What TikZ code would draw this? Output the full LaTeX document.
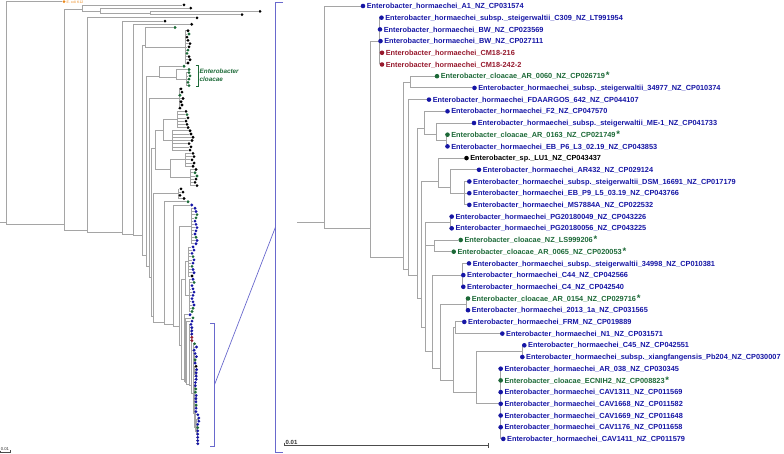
\documentclass[tikz,border=0pt]{standalone}
\usepackage{fontspec}
\setmainfont{Liberation Sans}
\pgfdeclarelayer{edgelayer}
\pgfsetlayers{edgelayer,main}
\definecolor{hb}{RGB}{22,22,165}
\definecolor{hg}{RGB}{28,105,55}
\definecolor{hr}{RGB}{150,25,45}
\definecolor{hk}{RGB}{0,0,0}
\definecolor{ho}{RGB}{235,135,25}
\definecolor{brc}{RGB}{165,165,165}
\definecolor{zbc}{RGB}{105,105,205}
\tikzset{
 lab/.style={anchor=base west,inner sep=0pt,xshift=3.6pt,yshift=-2.65pt,font=\fontsize{7.35}{8}\selectfont\bfseries},
 zline/.style={draw=zbc,line width=0.7pt},
 sbar/.style={draw=black!70,line width=0.6pt},
 cltext/.style={anchor=base west,inner sep=0pt,text=hg,font=\fontsize{6.3}{8}\selectfont\bfseries\itshape},
}
\newcommand\lf[4]{\node[leafdot,fill=#4] (#1) at (#2,#3) {};}
\newcommand\kid[2]{\foreach \kk in {#2}{\draw[brl] (#1) |- (\kk);}}
\newcommand\kidr[4]{\foreach \ki in {#2,...,#3}{\draw[brl] (#1) |- (#4\ki);}}
\newcommand\gstar{\hspace{0.8pt}{\fontsize{9.5}{9}\selectfont*}}
\newcommand\tl[3]{\node[lab,text=#2] (t#1) at (R-a#1.center) {#3};}
\newcommand\zoomtree{%
\lf{a0}{363}{0}{hb}\lf{a1}{381.5}{1}{hb}\lf{a2}{380}{2}{hb}\lf{a3}{380.5}{3}{hb}\lf{a4}{382}{4}{hr}\lf{a5}{382}{5}{hr}%
\lf{a6}{437}{6}{hg}\lf{a7}{474.5}{7}{hb}\lf{a8}{429}{8}{hb}\lf{a9}{447.5}{9}{hb}\lf{a10}{474}{10}{hb}%
\lf{a11}{447.5}{11}{hg}\lf{a12}{447.5}{12}{hb}\lf{a13}{466.5}{13}{hk}\lf{a14}{479}{14}{hb}%
\lf{a15}{469.3}{15}{hb}\lf{a16}{469.3}{16}{hb}\lf{a17}{469.3}{17}{hb}\lf{a18}{451.7}{18}{hb}\lf{a19}{451.7}{19}{hb}%
\lf{a20}{460.7}{20}{hg}\lf{a21}{453.7}{21}{hg}\lf{a22}{469}{22}{hb}\lf{a23}{463.3}{23}{hb}\lf{a24}{463.3}{24}{hb}%
\lf{a25}{468}{25}{hg}\lf{a26}{468}{26}{hb}\lf{a27}{464.3}{27}{hb}\lf{a28}{502.3}{28}{hb}\lf{a29}{524.3}{29}{hb}%
\lf{a30}{522.3}{30}{hb}\lf{a31}{500.7}{31}{hb}\lf{a32}{500.7}{32}{hg}\lf{a33}{500.7}{33}{hb}\lf{a34}{500.7}{34}{hb}%
\lf{a35}{500.7}{35}{hb}\lf{a36}{500.7}{36}{hb}\lf{a37}{503.3}{37}{hb}%
\coordinate (n1) at (324,18.5);\coordinate (n2) at (370,19);\coordinate (n3) at (379.5,3);%
\coordinate (n4) at (403,21.5);\coordinate (n5) at (410,6.5);\coordinate (n6) at (408,22.5);%
\coordinate (n7) at (417,23);\coordinate (n8) at (424,10.5);\coordinate (n8b) at (436,11);%
\coordinate (n8c) at (446,11.5);\coordinate (n9) at (421,25);\coordinate (nLU) at (438,15);%
\coordinate (nAR) at (450,15.5);\coordinate (nDSM) at (464,16);\coordinate (n10) at (425,27.5);%
\coordinate (nPG) at (450.5,18.5);\coordinate (nLS) at (434,20.5);\coordinate (n11) at (432,29.5);%
\coordinate (n34) at (462.5,23);\coordinate (n12) at (440,31);\coordinate (nA154) at (466.5,25.5);%
\coordinate (n13) at (453,32);\coordinate (nFRM) at (455,27.5);\coordinate (nBig) at (476,33);%
\coordinate (nC45) at (522.5,29.5);\coordinate (nCAV) at (500,34);%
\begin{pgfonlayer}{edgelayer}%
\kid{n1}{a0,n2}\kid{n2}{n3,n4}\kidr{n3}{1}{5}{a}\kid{n4}{n5,n6}\kid{n5}{a6,a7}%
\kid{n6}{a8,n7}\kid{n7}{n8,n9}\kid{n8}{a9,n8b}\kid{n8b}{a10,n8c}\kid{n8c}{a11,a12}%
\kid{n9}{nLU,n10}\kid{nLU}{a13,nAR}\kid{nAR}{a14,nDSM}\kidr{nDSM}{15}{17}{a}%
\kid{n10}{nPG,nLS,n11}\kid{nPG}{a18,a19}\kid{nLS}{a20,a21}\kid{n11}{n34,n12}%
\kidr{n34}{22}{24}{a}\kid{n12}{nA154,n13}\kid{nA154}{a25,a26}\kid{n13}{nFRM,nBig}%
\kid{nFRM}{a27,a28}\kid{nBig}{nC45,nCAV}\kid{nC45}{a29,a30}\kidr{nCAV}{31}{37}{a}%
\end{pgfonlayer}}
\begin{document}
\begin{tikzpicture}[x=1pt,y=-1pt]
\useasboundingbox (0,0) rectangle (784,454);
% ---------- right: zoomed clade ----------
\begin{scope}[shift={(0,6)},x=1pt,y=-11.7pt,name prefix=R-,
  leafdot/.style={circle,inner sep=0pt,minimum size=4.6pt,draw=none},
  brl/.style={draw=brc,line width=0.9pt}]
 \coordinate (rt) at (297,18.5);
 \zoomtree
 \begin{pgfonlayer}{edgelayer}\draw[brl] (rt) -- (n1);\end{pgfonlayer}
\end{scope}
% ---------- left: same clade, compressed ----------
\begin{scope}[shift={(173.21,324.4)},x=0.049pt,y=-3.227pt,name prefix=L-,
  leafdot/.style={circle,inner sep=0pt,minimum size=3.1pt,draw=none},
  brl/.style={draw=brc,line width=0.7pt}]
 \zoomtree
\end{scope}
% ---------- left: whole tree ----------
\begin{scope}[shift={(0,1.7)},y=-3.227pt,
  leafdot/.style={circle,inner sep=0pt,minimum size=3.1pt,draw=none},
  brl/.style={draw=brc,line width=0.7pt}]
 \lf{K0}{64}{0}{ho}
 \foreach \ki/\xx/\clr in {1/184/hk,2/190.7/hk,3/260/hk,4/242/hk,5/197/hk,6/165/hk,7/191.7/hk,8/175/hg,
   9/188/hk,10/189/hg,11/187/hk,12/188/hk,13/190/hk,14/189/hk,15/188/hg,16/187/hg,17/189/hk,18/190/hk,19/188/hk,
   20/184/hg,21/189/hg,22/189/hg,23/190/hg,24/189/hg,25/188/hg,26/189/hg,
   27/181/hk,28/182/hk,29/180/hg,30/183/hk,31/181/hk,32/182/hk,33/180/hk,
   34/186/hk,35/187/hg,36/188/hk,37/186/hk,38/187/hk,39/188/hk,
   40/190/hk,41/191/hk,42/193/hk,43/192/hk,44/189/hk,45/191/hk,46/190/hk,
   47/193/hk,48/194/hk,49/192/hk,50/194/hk,51/193/hk,
   52/196/hk,53/195/hg,54/197/hg,55/196/hk,56/195/hk,57/197/hk,
   58/181/hk,59/183/hk,60/180/hk,61/184/hk,
   62/188/hg,63/191.7/hb,
   64/195/hb,65/196/hb,66/197/hg,67/196/hg,68/195/hb,69/196/hb,70/197/hb,71/196/hb,72/195/hb,73/196/hg,74/197/hb,75/196/hb,
   76/193/hb,77/194/hb,78/192/hb,79/193/hg,80/194/hb,81/193/hb,82/192/hg,83/193/hb,84/194/hb,85/192/hk,
   86/193/hb,87/194/hg,88/192/hb,89/193/hb,90/194/hb,91/193/hb,92/192/hb,93/193/hb,94/194/hb,95/193/hg,96/192/hg,
   97/190/hb,98/193/hg,99/192/hb}
   {\lf{K\ki}{\xx}{\ki}{\clr}}
 \coordinate (root) at (0,68.5);
 \coordinate (N0) at (6,68.5);  \coordinate (N1) at (64,69);
 \coordinate (T) at (82,2.5);   \coordinate (T2) at (100,3);   \coordinate (T3) at (150.7,3.5);
 \coordinate (N2) at (87,71);   \coordinate (N3) at (122,71.5); \coordinate (N4) at (133,72);
 \coordinate (N5) at (142.7,72.5);
 \coordinate (B1) at (145.7,13.5); \coordinate (C1) at (185.5,14);
 \coordinate (N6) at (146.7,78.5); \coordinate (Bc) at (159,23); \coordinate (Bc2) at (176.7,23.5); \coordinate (Bc3) at (186.5,24);
 \coordinate (N7) at (149.3,82); \coordinate (C2) at (179,30);
 \coordinate (N8) at (151.7,85.5); \coordinate (C34) at (155,45.5); \coordinate (C3a) at (163,40);
 \coordinate (s1) at (177,36.5); \coordinate (s2) at (172,43); \coordinate (C4) at (170,52);
 \coordinate (s3) at (185,49); \coordinate (s4) at (190,54.5);
 \coordinate (N9) at (153.3,97.5); \coordinate (C5) at (178,59.5);
 \coordinate (N10) at (164,99.5); \coordinate (N11) at (173,100); \coordinate (N12) at (179,100.5);
 \coordinate (C6) at (191,69.5);
 \coordinate (N13) at (181.7,106.5); \coordinate (C7) at (185.5,86);
 \coordinate (C7a) at (188.5,80.5); \coordinate (C7b) at (189,91);
 \coordinate (N14) at (184,117); \coordinate (N15) at (185,117.5); \coordinate (N16) at (186,118);
 \begin{pgfonlayer}{edgelayer}
 \draw[brl] (root) -- (N0);
 \kid{N0}{K0,N1}\kid{N1}{T,N2}\kid{T}{K1,T2}\kid{T2}{K2,T3}\kid{T3}{K3,K4}
 \kid{N2}{K5,N3}\kid{N3}{K6,N4}\kid{N4}{K7,N5}\kid{N5}{B1,N6}\kid{B1}{K8,C1}\kidr{C1}{9}{19}{K}
 \kid{N6}{Bc,N7}\kid{Bc}{K20,Bc2}\kid{Bc2}{K21,Bc3}\kidr{Bc3}{22}{26}{K}
 \kid{N7}{C2,N8}\kidr{C2}{27}{33}{K}
 \kid{N8}{C34,N9}\kid{C34}{C3a,C4}\kid{C3a}{s1,s2}\kidr{s1}{34}{39}{K}\kidr{s2}{40}{46}{K}
 \kid{C4}{s3,s4}\kidr{s3}{47}{51}{K}\kidr{s4}{52}{57}{K}
 \kid{N9}{C5,N10}\kidr{C5}{58}{61}{K}
 \kid{N10}{K62,N11}\kid{N11}{K63,N12}\kid{N12}{C6,N13}\kidr{C6}{64}{75}{K}
 \kid{N13}{C7,N14}\kid{C7}{C7a,C7b}\kidr{C7a}{76}{85}{K}\kidr{C7b}{86}{96}{K}
 \kid{N14}{K97,N15}\kid{N15}{K98,N16}\kid{N16}{K99,L-n1}
 \end{pgfonlayer}
\end{scope}
% ---------- labels ----------
\node[anchor=west,inner sep=0pt,text=ho,font=\fontsize{3.5}{4}\selectfont] (ecoli) at (66.5,1.9) {E. coli K12};
\draw[draw=hg,line width=0.5pt] (195.5,65) -- (198.3,65) -- (198.3,86.7) -- (195.5,86.7);
\node[cltext] (cl1) at (199.5,73.3) {Enterobacter};
\node[cltext] (cl2) at (199.5,82) {cloacae};
\tl{0}{hb}{Enterobacter\_hormaechei\_A1\_NZ\_CP031574}
\tl{1}{hb}{Enterobacter\_hormaechei\_subsp.\_steigerwaltii\_C309\_NZ\_LT991954}
\tl{2}{hb}{Enterobacter\_hormaechei\_BW\_NZ\_CP023569}
\tl{3}{hb}{Enterobacter\_hormaechei\_BW\_NZ\_CP027111}
\tl{4}{hr}{Enterobacter\_hormaechei\_CM18-216}
\tl{5}{hr}{Enterobacter\_hormaechei\_CM18-242-2}
\tl{6}{hg}{Enterobacter\_cloacae\_AR\_0060\_NZ\_CP026719\gstar}
\tl{7}{hb}{Enterobacter\_hormaechei\_subsp.\_steigerwaltii\_34977\_NZ\_CP010374}
\tl{8}{hb}{Enterobacter\_hormaechei\_FDAARGOS\_642\_NZ\_CP044107}
\tl{9}{hb}{Enterobacter\_hormaechei\_F2\_NZ\_CP047570}
\tl{10}{hb}{Enterobacter\_hormaechei\_subsp.\_steigerwaltii\_ME-1\_NZ\_CP041733}
\tl{11}{hg}{Enterobacter\_cloacae\_AR\_0163\_NZ\_CP021749\gstar}
\tl{12}{hb}{Enterobacter\_hormaechei\_EB\_P6\_L3\_02.19\_NZ\_CP043853}
\tl{13}{hk}{Enterobacter\_sp.\_LU1\_NZ\_CP043437}
\tl{14}{hb}{Enterobacter\_hormaechei\_AR432\_NZ\_CP029124}
\tl{15}{hb}{Enterobacter\_hormaechei\_subsp.\_steigerwaltii\_DSM\_16691\_NZ\_CP017179}
\tl{16}{hb}{Enterobacter\_hormaechei\_EB\_P9\_L5\_03.19\_NZ\_CP043766}
\tl{17}{hb}{Enterobacter\_hormaechei\_MS7884A\_NZ\_CP022532}
\tl{18}{hb}{Enterobacter\_hormaechei\_PG20180049\_NZ\_CP043226}
\tl{19}{hb}{Enterobacter\_hormaechei\_PG20180056\_NZ\_CP043225}
\tl{20}{hg}{Enterobacter\_cloacae\_NZ\_LS999206\gstar}
\tl{21}{hg}{Enterobacter\_cloacae\_AR\_0065\_NZ\_CP020053\gstar}
\tl{22}{hb}{Enterobacter\_hormaechei\_subsp.\_steigerwaltii\_34998\_NZ\_CP010381}
\tl{23}{hb}{Enterobacter\_hormaechei\_C44\_NZ\_CP042566}
\tl{24}{hb}{Enterobacter\_hormaechei\_C4\_NZ\_CP042540}
\tl{25}{hg}{Enterobacter\_cloacae\_AR\_0154\_NZ\_CP029716\gstar}
\tl{26}{hb}{Enterobacter\_hormaechei\_2013\_1a\_NZ\_CP031565}
\tl{27}{hb}{Enterobacter\_hormaechei\_FRM\_NZ\_CP019889}
\tl{28}{hb}{Enterobacter\_hormaechei\_N1\_NZ\_CP031571}
\tl{29}{hb}{Enterobacter\_hormaechei\_C45\_NZ\_CP042551}
\tl{30}{hb}{Enterobacter\_hormaechei\_subsp.\_xiangfangensis\_Pb204\_NZ\_CP030007}
\tl{31}{hb}{Enterobacter\_hormaechei\_AR\_038\_NZ\_CP030345}
\tl{32}{hg}{Enterobacter\_cloacae\_ECNIH2\_NZ\_CP008823\gstar}
\tl{33}{hb}{Enterobacter\_hormaechei\_CAV1311\_NZ\_CP011569}
\tl{34}{hb}{Enterobacter\_hormaechei\_CAV1668\_NZ\_CP011582}
\tl{35}{hb}{Enterobacter\_hormaechei\_CAV1669\_NZ\_CP011648}
\tl{36}{hb}{Enterobacter\_hormaechei\_CAV1176\_NZ\_CP011658}
\tl{37}{hb}{Enterobacter\_hormaechei\_CAV1411\_NZ\_CP011579}
% ---------- zoom brackets ----------
\coordinate (lbt) at (214.5,323.3); \coordinate (lbb) at (214.5,446); \coordinate (lbm) at (214.5,384.7);
\coordinate (rbt) at (275.5,2); \coordinate (rbb) at (275.5,452); \coordinate (rbm) at (275.5,227);
\draw[zline] ([xshift=-4.5pt]lbt) -- (lbt) -- (lbb) -- ([xshift=-4.5pt]lbb);
\draw[zline] ([xshift=7.5pt]rbt) -- (rbt) -- (rbb) -- ([xshift=7.5pt]rbb);
\draw[zline] (lbm) -- (rbm);
% ---------- scale bars ----------
\coordinate (sa) at (284,445.7); \coordinate (sb) at (488.5,445.7);
\draw[sbar] (284,442.7) -- (sa) -- (sb);
\draw[sbar] (488.5,443) -- (488.5,448.3);
\node[anchor=base west,inner sep=0pt,font=\fontsize{6}{7}\selectfont\bfseries,text=black!80] (s01) at (285.5,444.3) {0.01};
\coordinate (ta) at (0.4,451.8); \coordinate (tb) at (10,451.8);
\draw[sbar,line width=0.4pt] (0.4,450.5) -- (ta) -- (tb);
\draw[sbar,line width=0.4pt] (10,450.3) -- (10,453.3);
\node[anchor=base west,inner sep=0pt,font=\fontsize{4.2}{5}\selectfont,text=black!80] (s02) at (0.6,450.9) {0.01};
\end{tikzpicture}
\end{document}
